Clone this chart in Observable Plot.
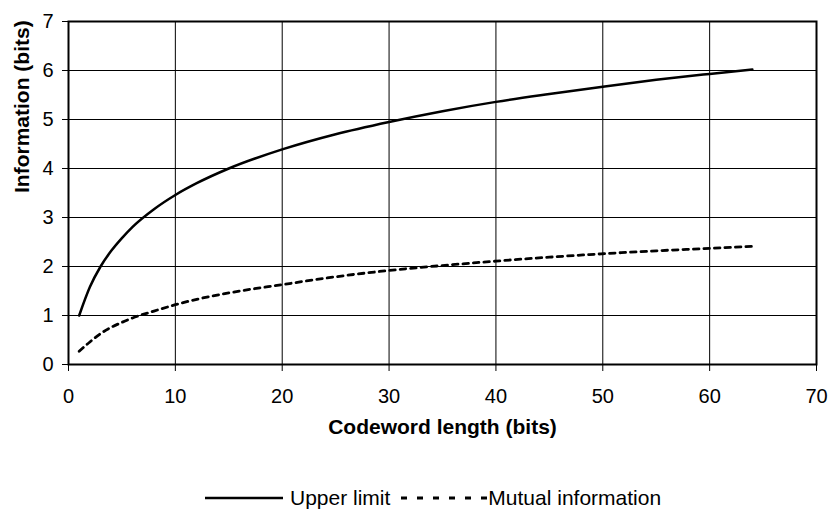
<!DOCTYPE html>
<html>
<head>
<meta charset="utf-8">
<script src="https://cdn.jsdelivr.net/npm/d3@7"></script>
<script src="https://cdn.jsdelivr.net/npm/@observablehq/plot@0.6"></script>
<style>
  html, body { margin: 0; padding: 0; background: #fff; }
  #wrap { position: relative; width: 829px; height: 511px; font-family: "Liberation Sans", Arial, sans-serif; }
  #legend { position: absolute; left: 205px; top: 485px; display: flex; align-items: center; font-size: 21px; color: #000; line-height: 26px; white-space: nowrap; }
  #legend svg { display: block; }
</style>
</head>
<body>
<div id="wrap">
  <div id="chart"></div>
  <div id="legend">
    <svg width="80" height="10"><line x1="0" x2="78" y1="5" y2="5" stroke="#000" stroke-width="2.5"/></svg>
    <span style="margin-left:5px">Upper limit</span>
    <svg width="87" height="10" style="margin-left:11px"><line x1="0" x2="86" y1="5" y2="5" stroke="#000" stroke-width="2.8" stroke-dasharray="6,10"/></svg>
    <span>Mutual information</span>
  </div>
</div>
<script>
// Codeword length (bits) and the two information curves, in bits
const codewordLength = [1, 2, 3, 4, 5, 6, 8, 10, 12, 15, 20, 25, 30, 35, 40, 45, 50, 55, 60, 64];
const upperLimit     = [1.00, 1.58, 2.00, 2.32, 2.58, 2.81, 3.17, 3.46, 3.70, 4.00, 4.39, 4.70, 4.95, 5.17, 5.36, 5.52, 5.67, 5.81, 5.93, 6.02];
const mutualInfo     = [0.27, 0.46, 0.63, 0.76, 0.86, 0.95, 1.09, 1.22, 1.33, 1.46, 1.63, 1.79, 1.92, 2.02, 2.11, 2.19, 2.26, 2.32, 2.37, 2.41];

const xTicks = [0, 10, 20, 30, 40, 50, 60, 70];
const yTicks = [0, 1, 2, 3, 4, 5, 6, 7];

const xTitle = "Codeword length (bits)";
const yTitle = "Information (bits)";

const upperRows = codewordLength.map((n, i) => ({n, v: upperLimit[i]}));
const mutualRows = codewordLength.map((n, i) => ({n, v: mutualInfo[i]}));

const chart = Plot.plot({
  width: 829,
  height: 470,
  marginTop: 21,
  marginLeft: 68,
  marginRight: 13,
  marginBottom: 106,
  x: {domain: [0, 70]},
  y: {domain: [0, 7]},
  style: {fontFamily: "'Liberation Sans', Arial, sans-serif", fontSize: "20px", color: "#000", background: "#fff"},
  marks: [
    Plot.gridX(xTicks, {stroke: "#000", strokeOpacity: 1, strokeWidth: 1}),
    Plot.gridY(yTicks, {stroke: "#000", strokeOpacity: 1, strokeWidth: 1}),
    Plot.axisX(xTicks, {tickSize: 7, tickPadding: 17, label: null, fontSize: 20, tickFormat: d => String(d)}),
    Plot.axisY(yTicks, {tickSize: 6, tickPadding: 9, label: null, fontSize: 20, tickFormat: d => String(d)}),
    Plot.frame({stroke: "#000", strokeWidth: 2}),
    Plot.line(upperRows, {x: "n", y: "v", stroke: "#000", strokeWidth: 2.5, curve: "monotone-x"}),
    Plot.line(mutualRows, {x: "n", y: "v", stroke: "#000", strokeWidth: 2.8, strokeDasharray: "5.5,5", curve: "monotone-x"}),
    Plot.text([xTitle], {text: d => d, frameAnchor: "bottom", dy: 69, fontWeight: "bold", fontSize: 21}),
    Plot.text([yTitle], {text: d => d, frameAnchor: "left", dx: -46, rotate: -90, fontWeight: "bold", fontSize: 21})
  ]
});

document.getElementById("chart").appendChild(chart);
</script>
</body>
</html>
